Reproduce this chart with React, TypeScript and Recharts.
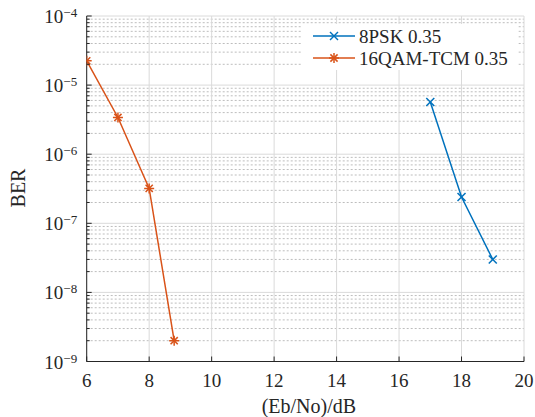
import React from 'react';
import { LineChart, Line, XAxis, YAxis, CartesianGrid, Legend } from 'recharts';

// ---- data ----
const snrPsk = [17, 18, 19];
const berPsk = [5.7e-6, 2.4e-7, 3.0e-8];
const snrQam = [6, 7, 8, 8.8];
const berQam = [2.25e-5, 3.4e-6, 3.2e-7, 2.0e-9];
const seriesNames = ['8PSK 0.35', '16QAM-TCM 0.35'];
const xTicks = [6, 8, 10, 12, 14, 16, 18, 20];
const yDecades = [1e-9, 1e-8, 1e-7, 1e-6, 1e-5, 1e-4];
const minorFactors = [2, 3, 4, 5, 6, 7, 8, 9];
const xLabel = '(Eb/No)/dB';
const yLabel = 'BER';

const pskData = snrPsk.map((x, i) => ({ x, y: berPsk[i] }));
const qamData = snrQam.map((x, i) => ({ x, y: berQam[i] }));
const yMinor = yDecades.slice(0, -1).flatMap((d) => minorFactors.map((f) => f * d));
const yAllTicks = [...yDecades, ...yMinor];

const FONT = "'Liberation Serif', Tinos, 'Times New Roman', 'DejaVu Serif', serif";
const INK = '#262626';
const BLUE = '#0072BD';
const ORANGE = '#D95319';
const txt = (size: number): React.CSSProperties => ({ fontFamily: FONT, fontSize: size });

const isDecade = (v: number) => {
  const l = Math.log10(v);
  return Math.abs(l - Math.round(l)) < 1e-6;
};

const YTickLeft = (props: any) => {
  const { x, y, payload } = props;
  const v = payload.value;
  if (!isDecade(v)) {
    return <line x1={x} y1={y} x2={x + 3} y2={y} stroke={INK} strokeWidth={1} />;
  }
  const exp = Math.round(Math.log10(v));
  return (
    <g>
      <line x1={x} y1={y} x2={x + 5} y2={y} stroke={INK} strokeWidth={1} />
      <text x={x - 9.5} y={y + 7} textAnchor="end" style={txt(19)} fill={INK}>
        <tspan>10</tspan>
        <tspan style={txt(13)} dy={-6}>{'\u2212' + Math.abs(exp)}</tspan>
      </text>
    </g>
  );
};

const YTickRight = (props: any) => {
  const { x, y, payload } = props;
  const len = isDecade(payload.value) ? 5 : 3;
  return <line x1={x} y1={y} x2={x - len} y2={y} stroke={INK} strokeWidth={1} />;
};

const XTickBottom = (props: any) => {
  const { x, y, payload } = props;
  return (
    <g>
      <line x1={x} y1={y} x2={x} y2={y - 5} stroke={INK} strokeWidth={1} />
      <text x={x} y={y + 25} textAnchor="middle" style={txt(19)} fill={INK}>
        {payload.value}
      </text>
    </g>
  );
};

const XTickTop = (props: any) => {
  const { x, y } = props;
  return <line x1={x} y1={y} x2={x} y2={y + 5} stroke={INK} strokeWidth={1} />;
};

const CrossMark = ({ cx, cy, color }: { cx: number; cy: number; color: string }) => {
  const r = 4;
  return (
    <g stroke={color} strokeWidth={1.5} fill="none">
      <line x1={cx - r} y1={cy - r} x2={cx + r} y2={cy + r} />
      <line x1={cx - r} y1={cy + r} x2={cx + r} y2={cy - r} />
    </g>
  );
};

const StarMark = ({ cx, cy, color }: { cx: number; cy: number; color: string }) => {
  const r = 5;
  const d = 3.6;
  return (
    <g stroke={color} strokeWidth={1.5} fill="none">
      <line x1={cx - r} y1={cy} x2={cx + r} y2={cy} />
      <line x1={cx} y1={cy - r} x2={cx} y2={cy + r} />
      <line x1={cx - d} y1={cy - d} x2={cx + d} y2={cy + d} />
      <line x1={cx - d} y1={cy + d} x2={cx + d} y2={cy - d} />
    </g>
  );
};

const LegendBox = () => {
  const rows = [
    { name: seriesNames[0], color: BLUE, kind: 'x' },
    { name: seriesNames[1], color: ORANGE, kind: '*' },
  ];
  return (
    <svg width={216} height={46} style={{ display: 'block' }}>
      <rect x={0} y={0} width={216} height={46} fill="#ffffff" />
      {rows.map((r, i) => {
        const cy = 12 + i * 22;
        return (
          <g key={r.name}>
            <line x1={11} y1={cy} x2={53} y2={cy} stroke={r.color} strokeWidth={1.5} />
            {r.kind === 'x' ? (
              <CrossMark cx={32} cy={cy} color={r.color} />
            ) : (
              <StarMark cx={32} cy={cy} color={r.color} />
            )}
            <text x={57} y={cy + 6.5} style={txt(19)} fill={INK}>
              {r.name}
            </text>
          </g>
        );
      })}
    </svg>
  );
};

export default function App() {
  return (
    <div style={{ position: 'absolute', left: 0, top: 0, width: 535, height: 417, background: '#fff' }}>
      <LineChart width={535} height={417} margin={{ top: 16, right: 11, bottom: 15.5, left: 0 }}>
        <CartesianGrid
          xAxisId="b"
          yAxisId="l"
          horizontalValues={yMinor}
          vertical={false}
          stroke="#bdbdbd"
          strokeDasharray="2 2"
        />
        <CartesianGrid
          xAxisId="b"
          yAxisId="l"
          horizontalValues={yDecades}
          verticalValues={xTicks}
          stroke="#dadada"
          strokeWidth={1}
        />
        <XAxis
          xAxisId="b"
          dataKey="x"
          type="number"
          domain={[6, 20]}
          ticks={xTicks}
          interval={0}
          height={40}
          tickSize={0}
          tickMargin={0}
          tickLine={false}
          axisLine={{ stroke: INK }}
          tick={<XTickBottom />}
          allowDataOverflow
          label={{
            content: (p: any) => {
              const vb = p.viewBox;
              return (
                <text
                  x={vb.x + vb.width / 2 + 3.5}
                  y={vb.y + 51.5}
                  textAnchor="middle"
                  style={txt(20)}
                  fill={INK}
                >
                  {xLabel}
                </text>
              );
            },
          }}
        />
        <XAxis
          xAxisId="t"
          orientation="top"
          dataKey="x"
          type="number"
          domain={[6, 20]}
          ticks={xTicks}
          interval={0}
          height={0}
          tickSize={0}
          tickMargin={0}
          tickLine={false}
          axisLine={{ stroke: INK }}
          tick={<XTickTop />}
          allowDataOverflow
        />
        <YAxis
          yAxisId="l"
          type="number"
          scale="log"
          domain={[1e-9, 1e-4]}
          ticks={yAllTicks}
          interval={0}
          width={86.7}
          tickSize={0}
          tickMargin={0}
          tickLine={false}
          axisLine={{ stroke: INK }}
          tick={<YTickLeft />}
          allowDataOverflow
          label={{
            content: () => (
              <text
                x={0}
                y={0}
                transform="translate(24.5 188) rotate(-90)"
                textAnchor="middle"
                style={txt(20)}
                fill={INK}
              >
                {yLabel}
              </text>
            ),
          }}
        />
        <YAxis
          yAxisId="r"
          orientation="right"
          type="number"
          scale="log"
          domain={[1e-9, 1e-4]}
          ticks={yAllTicks}
          interval={0}
          width={0}
          tickSize={0}
          tickMargin={0}
          tickLine={false}
          axisLine={{ stroke: INK }}
          tick={<YTickRight />}
          allowDataOverflow
        />
        <Line
          xAxisId="b"
          yAxisId="l"
          data={pskData}
          dataKey="y"
          name={seriesNames[0]}
          stroke={BLUE}
          strokeWidth={1.5}
          isAnimationActive={false}
          dot={(p: any) => <CrossMark key={`p${p.index}`} cx={p.cx} cy={p.cy} color={BLUE} />}
        />
        <Line
          xAxisId="b"
          yAxisId="l"
          data={qamData}
          dataKey="y"
          name={seriesNames[1]}
          stroke={ORANGE}
          strokeWidth={1.5}
          isAnimationActive={false}
          dot={(p: any) => <StarMark key={`q${p.index}`} cx={p.cx} cy={p.cy} color={ORANGE} />}
        />
        <Legend
          layout="horizontal"
          verticalAlign="middle"
          align="center"
          wrapperStyle={{ position: 'absolute', left: 302, top: 24, width: 216, height: 46, margin: 0, padding: 0 }}
          content={() => <LegendBox />}
        />
      </LineChart>
    </div>
  );
}
